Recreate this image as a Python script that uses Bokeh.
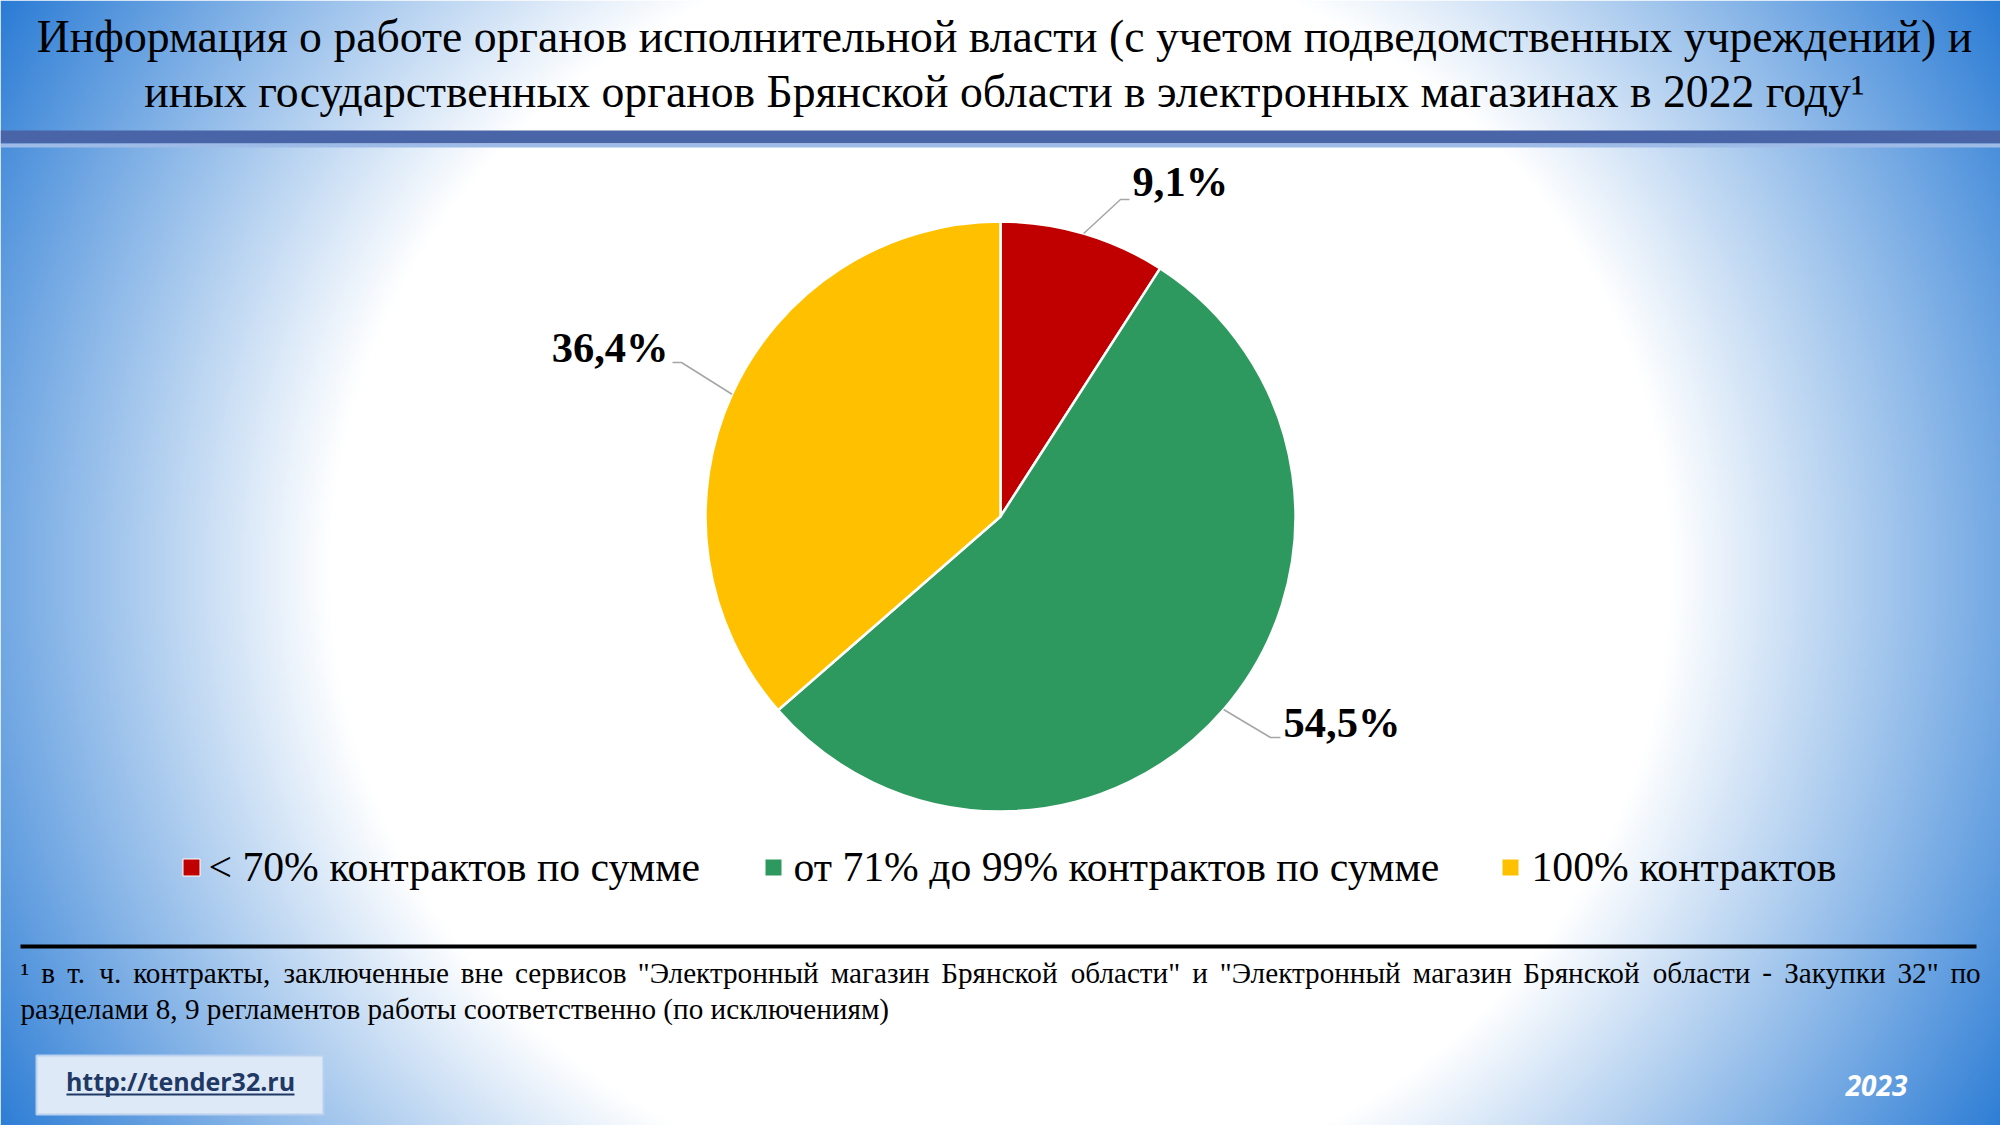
import numpy as np
from bokeh.plotting import figure
from bokeh.models import Range1d, ColumnDataSource
from bokeh.core.properties import value
from bokeh.embed import file_html
from bokeh.resources import INLINE

W, H = 2000, 1125

# ---------------- data ----------------
title_lines = [
    "Информация о работе органов исполнительной власти (с учетом подведомственных учреждений) и",
    "иных государственных органов Брянской области в электронных магазинах в 2022 году¹",
]
categories = [
    "< 70% контрактов по сумме",
    "от 71% до 99% контрактов по сумме",
    "100% контрактов",
]
shares = [9.1, 54.5, 36.4]
share_labels = ["9,1%", "54,5%", "36,4%"]
colors = ["#c00000", "#2e995f", "#ffc000"]
footnote_lines = [
    "¹ в т. ч. контракты, заключенные вне сервисов \"Электронный магазин Брянской области\" и \"Электронный магазин Брянской области - Закупки 32\" по",
    "разделами 8, 9 регламентов работы соответственно (по исключениям)",
]
link_text = "http://tender32.ru"
year_text = "2023"

# ---------------- layout ----------------
SERIF = value("Liberation Serif")
SANS = value("Open Sans")
CX, CY, R = 1000, 516, 295          # pie centre / radius (px from top-left)


def Y(py):
    return H - py


p = figure(width=W, height=H, x_range=Range1d(0, W), y_range=Range1d(0, H),
           output_backend="svg", toolbar_location=None, min_border=0,
           x_axis_location=None, y_axis_location=None)
p.grid.visible = False
p.outline_line_color = None
p.background_fill_color = "white"
p.border_fill_color = "white"

# background radial gradient
nx, ny = 800, 450
xs = (np.arange(nx) + 0.5) * W / nx
ys_top = H - (np.arange(ny) + 0.5) * H / ny
XX, YY = np.meshgrid(xs, ys_top)
t = np.sqrt(((XX - 1000) / 670) ** 2 + ((YY - 571) / 632) ** 2)
s = np.clip((t - 1) / 0.75, 0, 1)
blue = (40, 122, 212)
img = np.empty((ny, nx), dtype=np.uint32)
view = img.view(dtype=np.uint8).reshape((ny, nx, 4))
for k in range(3):
    view[..., k] = np.round(255 + (blue[k] - 255) * s).astype(np.uint8)
view[..., 3] = 255
p.image_rgba(image=[img], x=0, y=0, dw=W, dh=H)

# title separator bar
p.quad(left=0, right=W, top=Y(130), bottom=Y(143), fill_color="#4a64a8", line_color=None)
p.quad(left=0, right=W, top=Y(143), bottom=Y(147), fill_color="#9dbbe6", line_color=None)

# title
for i, line in enumerate(title_lines):
    p.text(x=[1004], y=[Y(36 + i * 55)], text=[line], text_font=SERIF,
           text_font_size="45.7px", text_color="black", text_align="center",
           text_baseline="alphabetic")

# pie
frac = np.array(shares) / sum(shares)
cum = np.concatenate([[0.0], np.cumsum(frac)])
start = np.pi / 2 - cum[:-1] * 2 * np.pi
end = np.pi / 2 - cum[1:] * 2 * np.pi
src = ColumnDataSource(dict(start=start, end=end, color=colors))
p.wedge(x=CX, y=Y(CY), radius=R, start_angle="start", end_angle="end",
        direction="clock", fill_color="color", line_color="white",
        line_width=2.5, source=src)

# leader lines + labels
mid = (start + end) / 2
edge_x = CX + R * np.cos(mid)
edge_y = Y(CY) + R * np.sin(mid)
elbows = [(1120, 199), (1270, 737), (681, 362)]
ends = [(1129, 199), (1280, 737), (672, 362)]
lx, ly = [], []
for i in range(3):
    lx.append([edge_x[i], elbows[i][0], ends[i][0]])
    ly.append([edge_y[i], Y(elbows[i][1]), Y(ends[i][1])])
p.multi_line(xs=lx, ys=ly, line_color="#a6a6a6", line_width=1.5)

label_pos = [(1132, 181, "left"), (1283, 722, "left"), (668, 347, "right")]
for i in range(3):
    p.text(x=[label_pos[i][0]], y=[Y(label_pos[i][1])], text=[share_labels[i]],
           text_font=SERIF, text_font_style="bold", text_font_size="42.5px",
           text_color="black", text_align=label_pos[i][2], text_baseline="alphabetic")

# legend
sq_x = [191, 773, 1510]
tx_x = [208, 793, 1531]
leg_y = 867
p.rect(x=sq_x, y=[Y(leg_y)] * 3, width=17, height=17, fill_color=colors,
       line_color="white", line_width=1)
p.text(x=tx_x, y=[Y(866)] * 3, text=categories, text_font=SERIF,
       text_font_size="41.7px", text_color="black", text_align="left",
       text_baseline="alphabetic")

# footnote
p.segment(x0=[20], y0=[Y(946)], x1=[1976], y1=[Y(946)], line_color="black", line_width=4)

# justified first line: approximate Times-like advance widths (em/1000)
adv = {" ": 250, "¹": 300, "в": 472, "т": 437, ".": 250, "ч": 500, "к": 486, "о": 500,
       "н": 535, "р": 500, "а": 444, "ы": 687, ",": 250, "з": 395, "л": 500, "ю": 722,
       "е": 444, "и": 535, "с": 444, "\"": 408, "Э": 667, "м": 624, "г": 410, "Б": 556,
       "я": 486, "й": 535, "б": 500, "-": 333, "З": 500, "у": 500, "п": 535, "3": 500,
       "2": 500, "д": 500}


def em(txt):
    return sum(adv.get(c, 500) for c in txt) / 1000.0


FN_SIZE = 29.2
calib = 1722.0 / (em(footnote_lines[0]) * 27.0)   # measured render width at 27px
words = footnote_lines[0].split(" ")
wwidths = [em(w) * FN_SIZE * calib for w in words]
left, right = 20, 1980
gap = (right - left - sum(wwidths)) / (len(words) - 1)
wx = []
cur = left
for w in wwidths:
    wx.append(cur)
    cur += w + gap
p.text(x=wx, y=[Y(972)] * len(words), text=words, text_font=SERIF,
       text_font_size=f"{FN_SIZE}px", text_color="black", text_align="left",
       text_baseline="alphabetic")
p.text(x=[20], y=[Y(1008)], text=[footnote_lines[1]], text_font=SERIF,
       text_font_size=f"{FN_SIZE}px", text_color="black", text_align="left",
       text_baseline="alphabetic")

# link box
p.quad(left=36, right=323, top=Y(1055), bottom=Y(1114), fill_color="#dde9f7",
       line_color="#b9d0ee", line_width=2)
p.text(x=[180], y=[Y(1080)], text=[link_text], text_font=SANS, text_font_style="bold",
       text_font_size="25px", text_color="#1f3864", text_align="center",
       text_baseline="alphabetic")
p.segment(x0=[66], y0=[Y(1094)], x1=[294], y1=[Y(1094)], line_color="#1f3864", line_width=2)

# year
p.text(x=[1876], y=[Y(1085)], text=[year_text], text_font=SANS,
       text_font_style="bold italic", text_font_size="28px", text_color="white",
       text_align="center", text_baseline="alphabetic")

open("out.html", "w").write(file_html(p, INLINE))
